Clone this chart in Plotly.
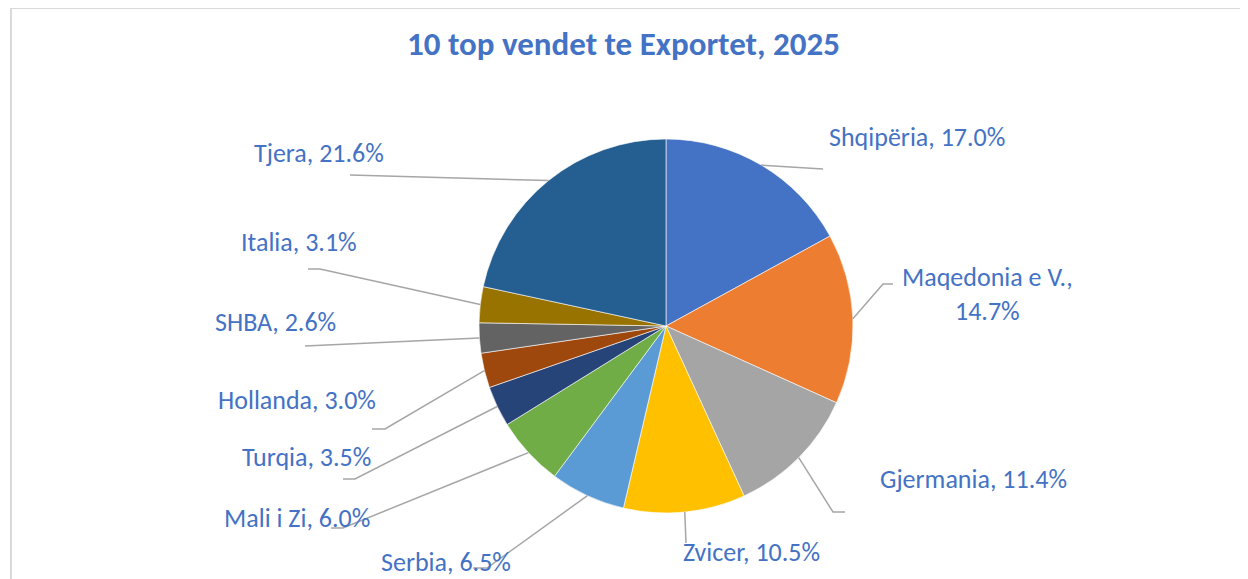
import math
import plotly.graph_objects as go

# ---- data ----
countries = ["Shqipëria", "Maqedonia e V.", "Gjermania", "Zvicer", "Serbia",
             "Mali i Zi", "Turqia", "Hollanda", "SHBA", "Italia", "Tjera"]
shares = [17.0, 14.7, 11.4, 10.5, 6.5, 6.0, 3.5, 3.0, 2.6, 3.1, 21.6]
label_texts = ["Shqipëria, 17.0%", "Maqedonia e V.,<br>14.7%", "Gjermania, 11.4%",
               "Zvicer, 10.5%", "Serbia, 6.5%", "Mali i Zi, 6.0%", "Turqia, 3.5%",
               "Hollanda, 3.0%", "SHBA, 2.6%", "Italia, 3.1%", "Tjera, 21.6%"]
title_text = "10 top vendet te Exportet, 2025"

# ---- styling / layout ----
colors = ["#4472C4", "#ED7D31", "#A5A5A5", "#FFC000", "#5B9BD5", "#70AD47",
          "#264478", "#9E480E", "#636363", "#997300", "#255E91"]
OFF = 8                      # page body margin of the browser
W, H = 1248 - OFF, 579 - OFF
CX, CY, R = 666, 326, 187
label_pos = [(917, 137), (987, 294), (973, 479), (751, 552), (446, 562),
             (297, 518), (306, 457), (297, 400), (275, 322), (299, 242), (319, 153)]
leader_pts = [[(823, 169)], [(883, 284), (893, 284)], [(833, 512), (845, 512)],
              [(686, 543)], [(487, 568), (473, 568)], [(343, 528), (331, 528)],
              [(355, 479), (343, 479)], [(385, 429), (372, 429)], [(305, 346)],
              [(320, 269), (308, 269)], [(350, 175)]]
TXT = "#4472C4"
FONT = "Calibri, Carlito, Lato, sans-serif"


def px(x, y):
    return (x - OFF) / W, 1 - (y - OFF) / H


d_x0, d_y1 = px(CX - R, CY - R)
d_x1, d_y0 = px(CX + R, CY + R)
fig = go.Figure(go.Pie(
    labels=countries, values=shares, sort=False, direction="clockwise",
    rotation=0, textinfo="none", hoverinfo="label+percent",
    marker=dict(colors=colors, line=dict(color="white", width=0.6)),
    domain=dict(x=[d_x0, d_x1], y=[d_y0, d_y1]),
    showlegend=False,
))

shapes = []
bx0, by1 = px(11, 8)
shapes.append(dict(type="rect", xref="paper", yref="paper",
                   x0=bx0, x1=1.05, y0=-0.05, y1=by1,
                   line=dict(color="#D9D9D9", width=2), fillcolor="rgba(0,0,0,0)"))

total = sum(shares)
cum = 0.0
annotations = []
for i, v in enumerate(shares):
    mid = (cum + v / 2) / total * 2 * math.pi
    cum += v
    sx = CX + R * math.sin(mid)
    sy = CY - R * math.cos(mid)
    pts = [(sx, sy)] + leader_pts[i]
    path = "M " + " L ".join(f"{px(x, y)[0]:.5f},{px(x, y)[1]:.5f}" for x, y in pts)
    shapes.append(dict(type="path", xref="paper", yref="paper", path=path,
                       line=dict(color="#A6A6A6", width=1.5)))
    lx, ly = px(*label_pos[i])
    annotations.append(dict(x=lx, y=ly, xref="paper", yref="paper", text=label_texts[i],
                            showarrow=False, xanchor="center", yanchor="middle",
                            align="center", font=dict(family=FONT, size=26, color=TXT)))

tx, ty = px(623, 44)
annotations.append(dict(x=tx, y=ty, xref="paper", yref="paper", text=f"<b>{title_text}</b>",
                        showarrow=False, xanchor="center", yanchor="middle",
                        font=dict(family=FONT, size=33, color=TXT)))

fig.update_layout(width=W, height=H, margin=dict(l=0, r=0, t=0, b=0),
                  paper_bgcolor="white", plot_bgcolor="white",
                  shapes=shapes, annotations=annotations)
fig.write_html("out.html")
